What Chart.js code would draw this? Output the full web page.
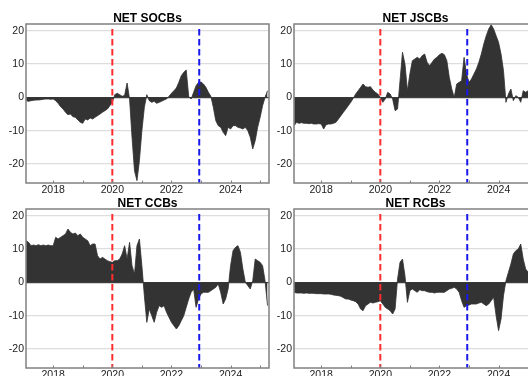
<!DOCTYPE html>
<html><head><meta charset="utf-8">
<script src="https://cdn.jsdelivr.net/npm/chart.js@4.4.1/dist/chart.umd.min.js"></script>
<style>
html,body{margin:0;padding:0;width:528px;height:376px;overflow:hidden;background:#fff;}
.p{position:absolute;width:272px;height:196px;}
</style></head><body>
<div class="p" style="left:0;top:0"><canvas id="c0"></canvas></div>
<div class="p" style="left:268px;top:0"><canvas id="c1"></canvas></div>
<div class="p" style="left:0;top:185px"><canvas id="c2"></canvas></div>
<div class="p" style="left:268px;top:185px"><canvas id="c3"></canvas></div>
<script>
// Monthly observations, Feb 2017 .. Apr 2025
const firstMonth = '2017-02';
const titles = ['NET SOCBs', 'NET JSCBs', 'NET CCBs', 'NET RCBs'];
const yearTicks = [2018, 2020, 2022, 2024];
const events = [2020.0, 2022.94];
const eventColors = ['rgb(255,45,45)', 'rgb(25,25,235)'];

const socb = [-1.0,-1.2,-1.0,-0.9,-0.8,-0.8,-0.7,-0.6,-0.5,-0.5,-0.6,-0.5,
  -1.0,-1.8,-2.8,-3.5,-4.5,-5.2,-5.0,-5.8,-6.0,-6.8,-7.5,-7.8,
  -6.5,-6.8,-6.2,-6.5,-6.0,-5.5,-5.0,-4.5,-4.0,-3.5,-2.5,-1.5,
  0.8,1.2,0.8,0.3,0.6,4.3,-0.5,-12,-22,-25,-19,-10,
  -3,0.8,-1.0,-1.5,-1.2,-1.8,-1.5,-1.2,-0.8,-0.5,0.3,1.2,
  2.0,2.8,4.5,6.5,7.5,8.2,0.3,-0.5,1.5,3.5,4.5,4.6,
  4.0,3.0,1.5,0.3,-3.0,-7.0,-8.5,-9.0,-10.5,-11.5,-9.0,-9.5,
  -8.5,-8.5,-9.0,-9.2,-9.5,-9.0,-10.0,-12.0,-15.5,-13.0,-9.0,-6.0,
  -2.5,0,2.0];
const jscb = [-8.5,-7.5,-7.8,-7.6,-7.8,-7.8,-7.9,-7.8,-8.0,-8.0,-7.9,-8.0,
  -9.5,-8.2,-8.0,-8.0,-7.8,-7.5,-6.5,-5.5,-4.5,-3.5,-2.5,-1.5,
  -0.3,1.0,2.0,3.0,4.0,3.2,3.0,3.2,2.2,1.5,1.0,0.0,
  -1.5,-0.5,1.5,1.0,-0.5,-4.0,-3.5,5.0,13.5,10.0,2.0,7.0,
  11.0,11.5,12.0,11.5,12.5,13.0,10.5,9.5,10.5,11.5,12.0,12.8,
  13.2,12.8,11.0,6.0,2.5,0.0,4.0,4.5,5.0,12.0,7.0,4.5,
  5.5,7.0,8.5,10.5,13.0,16.0,18.5,20.5,21.8,20.5,18.5,16.5,
  13.0,8.0,-1.5,1.0,2.5,-1.0,0.5,0.0,-1.5,2.0,1.5,2.0,
  2.5,2.0,2.5];
const ccb = [12.5,12.0,11.0,11.2,11.0,11.3,11.0,11.2,11.0,11.2,11.0,11.0,
  13.5,13.0,13.5,14.0,14.5,16.0,15.0,14.5,14.8,14.0,14.5,13.5,
  13.0,12.5,11.0,11.5,11.5,8.0,7.0,7.5,7.0,6.5,6.2,6.0,
  6.5,6.5,7.0,8.5,11.0,7.0,12.0,5.0,2.5,11.0,13.0,5.0,
  -4.0,-12.0,-8.0,-10.0,-12.0,-9.0,-7.0,-7.5,-7.0,-9.0,-10.5,-12.0,
  -13.0,-14.0,-13.0,-11.5,-10.0,-7.5,-5.0,-3.0,-2.0,-7.5,-5.0,-3.5,
  -3.0,-3.0,-3.0,-2.5,-2.0,-1.5,-0.5,-3.0,-6.5,-5.0,-2.0,5.0,
  9.5,10.5,11.0,9.0,4.0,0.0,-1.0,-2.0,0.5,7.0,6.5,6.0,
  5.0,0.5,-7.0];
const rcb = [-3.0,-3.2,-3.2,-3.2,-3.3,-3.2,-3.3,-3.3,-3.3,-3.4,-3.4,-3.4,
  -3.5,-3.5,-3.5,-3.6,-3.8,-3.9,-4.0,-4.2,-4.6,-5.0,-5.0,-5.3,
  -5.5,-5.8,-6.5,-8.0,-8.5,-7.0,-6.5,-6.0,-6.2,-6.0,-5.8,-5.5,
  -6.5,-7.5,-8.0,-8.5,-9.5,-8.0,1.0,6.0,7.0,2.0,-6.0,-2.5,
  -2.0,-2.5,-3.0,-2.2,-2.5,-2.5,-2.8,-3.0,-3.0,-3.2,-3.0,-3.0,
  -3.0,-3.0,-2.5,-2.0,-1.8,-1.5,-2.0,-3.0,-5.5,-7.5,-7.0,-6.8,
  -6.5,-6.5,-6.5,-6.2,-6.0,-6.5,-7.0,-6.5,-5.5,-4.5,-10.0,-14.5,
  -11.0,-4.0,0.5,3.0,5.5,8.5,9.5,10.0,11.5,7.0,4.0,3.0,
  2.5,2.0,2.0];
const series = [socb, jscb, ccb, rcb];

// month labels "YYYY-MM"
const months = [];
(function(){ let y = +firstMonth.slice(0,4), m = +firstMonth.slice(5,7);
  for (let i = 0; i < socb.length; i++) { months.push(y + '-' + String(m).padStart(2,'0')); m++; if (m > 12) { m = 1; y++; } } })();
const toYear = s => +s.slice(0,4) + (+s.slice(5,7) - 1) / 12;

const X_MIN = 2017.08, X_MAX = 2025.3, Y_MIN = -25.7, Y_MAX = 22, EV_TOP = 20.5;
const FONT = "'Liberation Sans', Arial, sans-serif";

const boxPlugin = {
  id: 'box',
  afterDatasetsDraw(chart) {
    const {ctx, chartArea: a, scales: {x}} = chart;
    ctx.save();
    ctx.strokeStyle = '#808080';
    ctx.lineWidth = 1.5;
    ctx.strokeRect(a.left, a.top, a.right - a.left, a.bottom - a.top);
    ctx.lineWidth = 1;
    x.ticks.forEach(t => {
      const px = Math.round(x.getPixelForValue(t.value)) + 0.5;
      ctx.beginPath(); ctx.moveTo(px, a.bottom); ctx.lineTo(px, a.bottom - 2.5); ctx.stroke();
    });
    ctx.restore();
  }
};

function makeChart(idx) {
  const vals = series[idx];
  const pts = vals.map((v, i) => ({x: toYear(months[i]), y: v}));
  const evSets = events.map((e, k) => ({
    type: 'line',
    data: [{x: e, y: EV_TOP}, {x: e, y: Y_MIN}],
    borderColor: eventColors[k], borderWidth: 2, borderDash: [6.5, 3.5],
    pointRadius: 0, fill: false, order: 0
  }));
  new Chart(document.getElementById('c' + idx), {
    type: 'line',
    data: {
      datasets: [...evSets, {
        data: pts, borderColor: '#303030', backgroundColor: '#333333',
        borderWidth: 0.8, pointRadius: 0, fill: 'origin', tension: 0, order: 1
      }]
    },
    options: {
      responsive: true, maintainAspectRatio: false, animation: false, devicePixelRatio: 1,
      layout: {padding: {left: 0, right: 3, top: 0, bottom: 0}},
      plugins: {
        legend: {display: false}, tooltip: {enabled: false},
        title: {display: true, text: titles[idx], fullSize: false, color: '#000',
          font: {family: FONT, size: 12, weight: 'bold', lineHeight: 1},
          padding: {top: 13, bottom: -1}}
      },
      scales: {
        x: {
          type: 'linear', min: X_MIN, max: X_MAX,
          grid: {display: false, drawTicks: false, tickLength: 0}, border: {display: false},
          afterFit: s => { s.height = 13; },
          ticks: {stepSize: 1, includeBounds: false, autoSkip: false, maxRotation: 0, padding: 1,
            color: '#222', font: {family: FONT, size: 10.5},
            callback: v => yearTicks.includes(v) ? String(v) : ''}
        },
        y: {
          min: Y_MIN, max: Y_MAX,
          afterFit: s => { s.width = 26; },
          border: {display: false},
          grid: {drawTicks: false, tickLength: 0, lineWidth: 1.2,
            color: c => c.tick && c.tick.value === 0 ? '#444' : '#dddddd'},
          ticks: {stepSize: 10, includeBounds: false, padding: 2, color: '#222',
            font: {family: FONT, size: 10.5}}
        }
      }
    },
    plugins: [boxPlugin]
  });
}
[0, 1, 2, 3].forEach(makeChart);
</script>
</body></html>
